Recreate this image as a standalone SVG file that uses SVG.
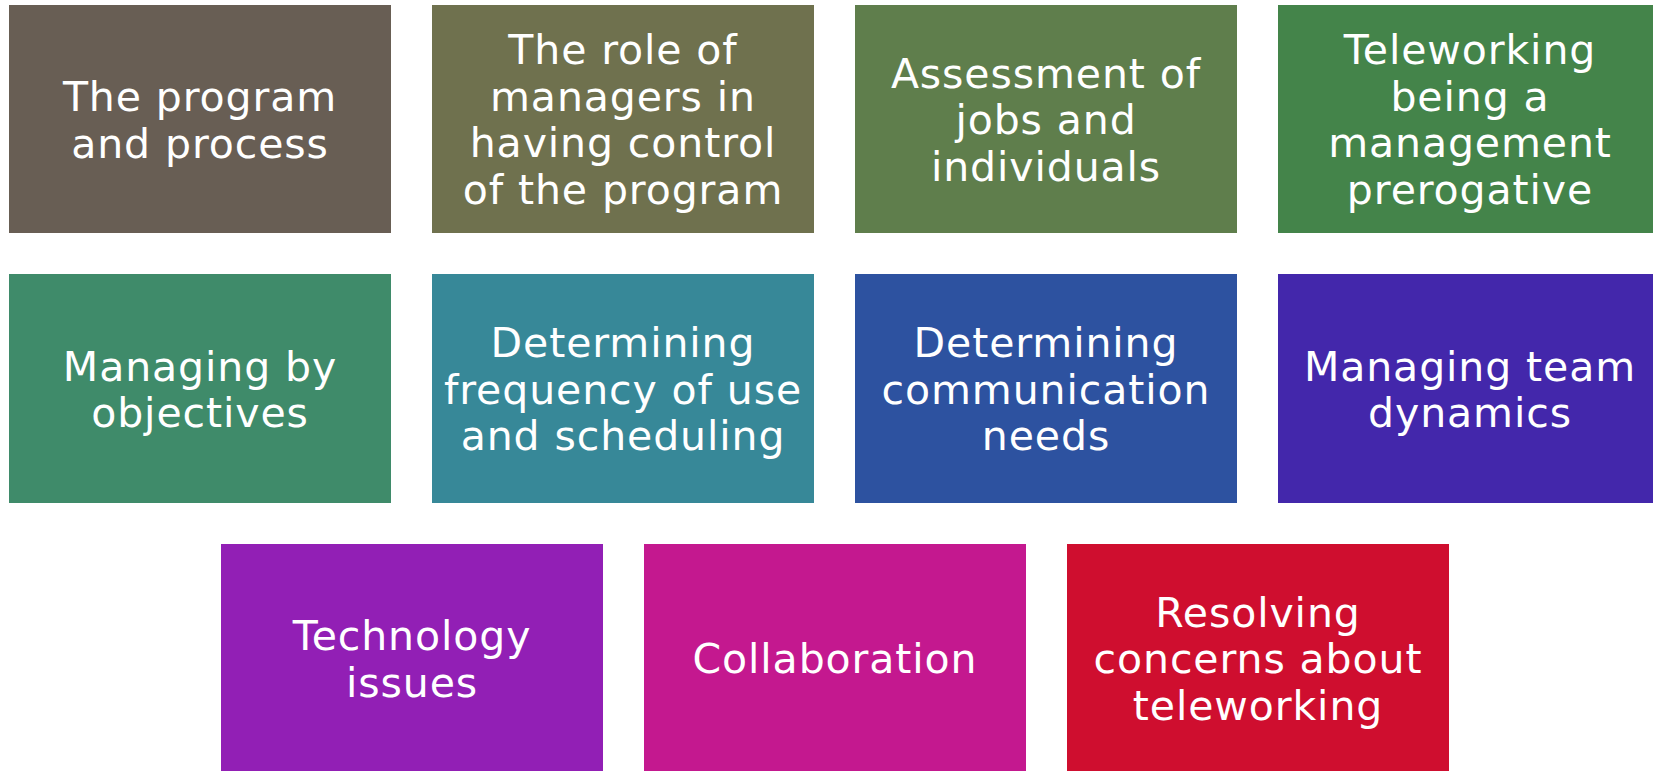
<svg xmlns="http://www.w3.org/2000/svg" width="1653" height="771" viewBox="0 0 1653 771">
<style>
rect{stroke:none}
text{font-family:"DejaVu Sans","Liberation Sans",sans-serif;font-size:41px;fill:#ffffff;text-anchor:middle;letter-spacing:0.9px}
</style>
<rect width="1653" height="771" fill="#ffffff"/>
<g id="n1"><rect x="9" y="5" width="382" height="228" fill="#685E54"/><text x="200"><tspan x="200" y="111">The program</tspan><tspan x="200" y="157.5">and process</tspan></text></g>
<g id="n2"><rect x="432" y="5" width="382" height="228" fill="#6F714E"/><text><tspan x="623" y="64">The role of</tspan><tspan x="623" y="110.5">managers in</tspan><tspan x="623" y="157">having control</tspan><tspan x="623" y="203.5">of the program</tspan></text></g>
<g id="n3"><rect x="855" y="5" width="382" height="228" fill="#5F7E4C"/><text><tspan x="1046" y="87.5">Assessment of</tspan><tspan x="1046" y="134">jobs and</tspan><tspan x="1046" y="180.5">individuals</tspan></text></g>
<g id="n4"><rect x="1278" y="5" width="382" height="228" fill="#44844A"/><text><tspan x="1470" y="64">Teleworking</tspan><tspan x="1470" y="110.5">being a</tspan><tspan x="1470" y="157">management</tspan><tspan x="1470" y="203.5">prerogative</tspan></text></g>
<g id="n5"><rect x="9" y="274" width="382" height="229" fill="#3F8B6A"/><text><tspan x="200" y="380.5">Managing by</tspan><tspan x="200" y="427">objectives</tspan></text></g>
<g id="n6"><rect x="432" y="274" width="382" height="229" fill="#378898"/><text><tspan x="623" y="357">Determining</tspan><tspan x="623" y="403.5">frequency of use</tspan><tspan x="623" y="450">and scheduling</tspan></text></g>
<g id="n7"><rect x="855" y="274" width="382" height="229" fill="#2D52A0"/><text><tspan x="1046" y="357">Determining</tspan><tspan x="1046" y="403.5">communication</tspan><tspan x="1046" y="450">needs</tspan></text></g>
<g id="n8"><rect x="1278" y="274" width="382" height="229" fill="#4327AB"/><text><tspan x="1470" y="380.5">Managing team</tspan><tspan x="1470" y="427">dynamics</tspan></text></g>
<g id="n9"><rect x="221" y="544" width="382" height="228" fill="#921FB5"/><text><tspan x="412" y="650">Technology</tspan><tspan x="412" y="696.5">issues</tspan></text></g>
<g id="n10"><rect x="644" y="544" width="382" height="228" fill="#C4188F"/><text><tspan x="835" y="673">Collaboration</tspan></text></g>
<g id="n11"><rect x="1067" y="544" width="382" height="228" fill="#CF0E2F"/><text><tspan x="1258" y="626.5">Resolving</tspan><tspan x="1258" y="673">concerns about</tspan><tspan x="1258" y="719.5">teleworking</tspan></text></g>
<g id="connectors"></g>
</svg>
